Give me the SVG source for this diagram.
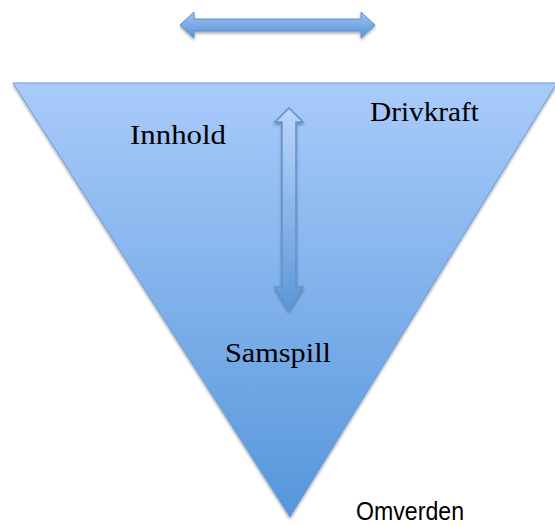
<svg xmlns="http://www.w3.org/2000/svg" width="555" height="525" viewBox="0 0 555 525">
<defs>
<linearGradient id="tri" x1="0" y1="0" x2="0" y2="1">
<stop offset="0" stop-color="#a9cbfa"/>
<stop offset="1" stop-color="#5596db"/>
</linearGradient>
<linearGradient id="harr" x1="0" y1="0" x2="0" y2="1">
<stop offset="0" stop-color="#9fc3f5"/>
<stop offset="1" stop-color="#5a93d6"/>
</linearGradient>
<linearGradient id="varr" x1="0" y1="0" x2="0" y2="1">
<stop offset="0" stop-color="#bcd6fb"/>
<stop offset="1" stop-color="#5c97d8"/>
</linearGradient>
<filter id="sh" x="-20%" y="-20%" width="140%" height="160%">
<feGaussianBlur in="SourceAlpha" stdDeviation="1.5"/>
<feOffset dy="2" result="b"/>
<feComponentTransfer><feFuncA type="linear" slope="0.35"/></feComponentTransfer>
<feMerge><feMergeNode/><feMergeNode in="SourceGraphic"/></feMerge>
</filter>
<style>
.serif{font-family:"Liberation Serif","DejaVu Serif",serif;font-size:27px;fill:#000}
.sans{font-family:"Liberation Sans","DejaVu Sans",sans-serif;font-size:25px;fill:#000}
</style>
</defs>
<g id="triangle">
<polygon points="13,83 557,83 290,517" fill="url(#tri)" stroke="#6b9bd6" stroke-width="1" filter="url(#sh)"/>
</g>
<g id="connectors">
<polygon id="h-arrow" points="180,25 194,12 194,19 361,19 361,12 375,25 361,38 361,31 194,31 194,38" fill="url(#harr)" stroke="#5a8fd0" stroke-width="1" filter="url(#sh)"/>
<polygon id="v-arrow" points="289,108 303,122 296,122 296,287 303,287 289,310 275,287 282,287 282,122 275,122" fill="url(#varr)" stroke="#5f93d0" stroke-width="1.5" filter="url(#sh)"/>
</g>
<g id="label-innhold"><text class="serif" x="130" y="144" textLength="96" lengthAdjust="spacingAndGlyphs">Innhold</text></g>
<g id="label-drivkraft"><text class="serif" x="370" y="121" textLength="109" lengthAdjust="spacingAndGlyphs">Drivkraft</text></g>
<g id="label-samspill"><text class="serif" x="225" y="362" textLength="106" lengthAdjust="spacingAndGlyphs">Samspill</text></g>
<g id="label-omverden"><text class="sans" x="356" y="520" textLength="108" lengthAdjust="spacingAndGlyphs">Omverden</text></g>
</svg>
